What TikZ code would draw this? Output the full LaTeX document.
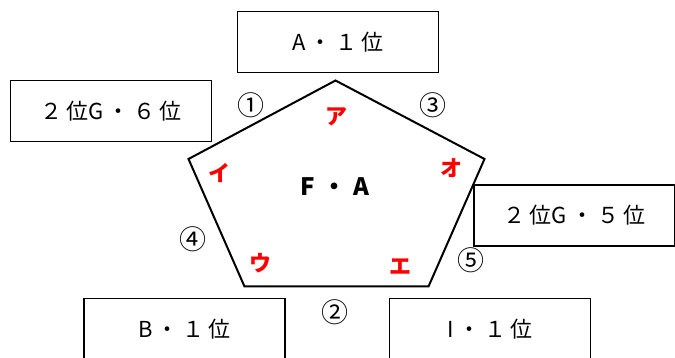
\documentclass[tikz,border=0pt]{standalone}
\usepackage{fontspec}
\setmainfont{Noto Sans CJK JP}
\newcommand\gap{\hspace{4pt}}
\begin{document}
\begin{tikzpicture}[
  x=1pt, y=-1pt,
  team/.style  = {draw, line width=1.3pt, minimum width=201pt, minimum height=61pt,
                  inner sep=0pt, font=\fontsize{22}{22}\selectfont},
  pent/.style  = {line width=2pt, line join=miter},
  kana/.style  = {text=red, font=\bfseries\fontsize{22}{22}\selectfont, inner sep=0pt},
  num/.style   = {font=\fontsize{27}{27}\selectfont, inner sep=0pt},
  centre/.style = {font=\bfseries\fontsize{24}{24}\selectfont, inner sep=0pt},
]
  \useasboundingbox (0,0) rectangle (675,358);
  \clip (0,0) rectangle (675,358);

  % the five groups round the pentagon
  \node[team] (ta) at (338,42)    {A\gap{}・\gap{}１\gap{}位};
  \node[team] (tl) at (111,111)   {２\gap{}位G\gap{}・\gap{}６\gap{}位};
  \node[team] (tr) at (574.5,215.5) {２\gap{}位G\gap{}・\gap{}５\gap{}位};
  \node[team] (tb) at (184.5,329) {B\gap{}・\gap{}１\gap{}位};
  \node[team] (ti) at (490,329)   {I\gap{}・\gap{}１\gap{}位};

  \coordinate (top) at (335.5,80.5);
  \coordinate (rgt) at (484.5,159);
  \coordinate (brt) at (428.5,286.5);
  \coordinate (blt) at (244.5,286.5);
  \coordinate (lft) at (188.5,159);
  \draw[pent] (top) -- (rgt) -- (brt) -- (blt) -- (lft) -- cycle;

  \node[centre] (fa) at (335,187) {F\hspace{7pt}・\hspace{7pt}A};

  \node[kana] (ka) at (336.5,117) {ア};
  \node[kana] (ki) at (219,173)   {イ};
  \node[kana] (ko) at (451.5,168) {オ};
  \node[kana] (ku) at (260,263.5) {ウ};
  \node[kana] (ke) at (400,266.5) {エ};

  \node[num] (n1) at (251,105)   {①};
  \node[num] (n3) at (433,105)   {③};
  \node[num] (n4) at (193,239)   {④};
  \node[num] (n5) at (470.5,260.5) {⑤};
  \node[num] (n2) at (334.5,312) {②};
\end{tikzpicture}
\end{document}
